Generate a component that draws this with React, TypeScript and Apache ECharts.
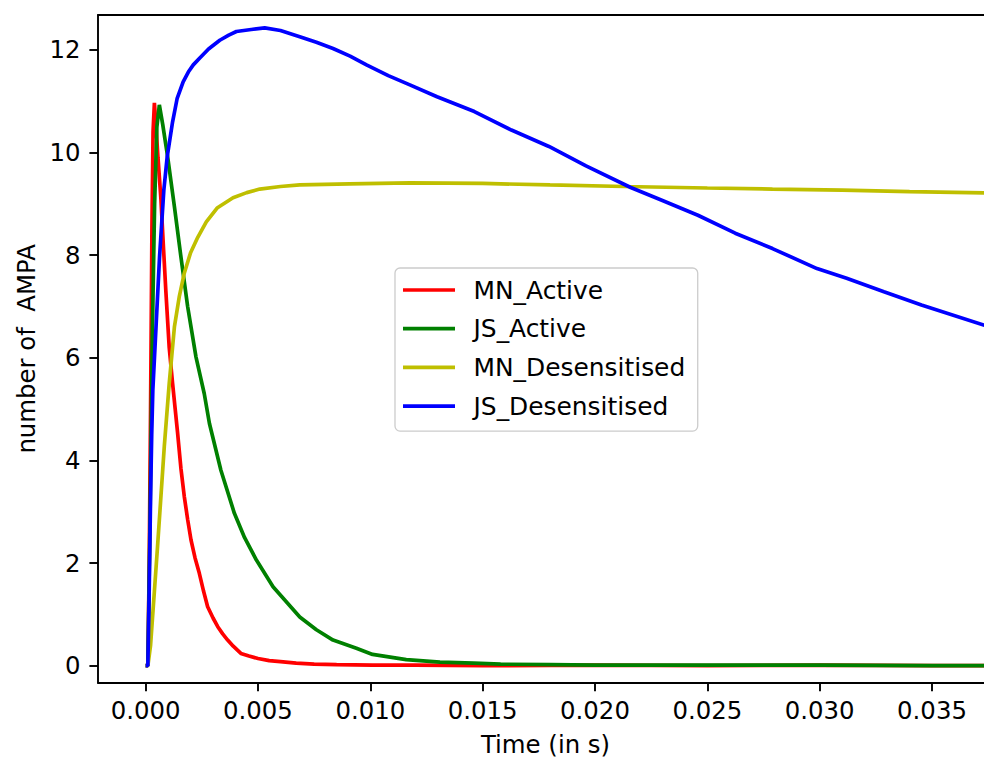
import React, { useEffect, useRef } from "react";
import * as echarts from "echarts";

// ---- data (time in s, number of AMPA) ----
const mnActiveT = [0, 0.0001, 0.00016, 0.00022, 0.00028, 0.00033, 0.00039, 0.00045, 0.00055, 0.00068, 0.0008, 0.0009, 0.00105, 0.0012, 0.00142, 0.00157, 0.00172, 0.00187, 0.00202, 0.0022, 0.00239, 0.00258, 0.00276, 0.003, 0.00321, 0.00343, 0.00365, 0.0039, 0.00424, 0.0046, 0.005, 0.0055, 0.006, 0.0067, 0.0075, 0.0085, 0.0101, 0.012, 0.015, 0.02, 0.025, 0.03, 0.035, 0.0378];
const mnActiveV = [0, 0, 2.0, 5.0, 8.5, 10.4, 10.97, 10.6, 9.9, 9.1, 8.1, 7.3, 6.2, 5.5, 4.55, 3.85, 3.3, 2.85, 2.45, 2.1, 1.8, 1.45, 1.15, 0.93, 0.76, 0.62, 0.5, 0.38, 0.24, 0.19, 0.14, 0.1, 0.08, 0.05, 0.03, 0.02, 0.01, 0.01, 0.0, 0.01, 0.0, 0.01, 0.0, 0.0];

const jsActiveT = [0, 0.0001, 0.0002, 0.0003, 0.0004, 0.0005, 0.00061, 0.00076, 0.00098, 0.00128, 0.00157, 0.00187, 0.00224, 0.00261, 0.00284, 0.00335, 0.00395, 0.0044, 0.00493, 0.00567, 0.00686, 0.0076, 0.00834, 0.00938, 0.0101, 0.0116, 0.0131, 0.0146, 0.0158, 0.018, 0.02, 0.025, 0.03, 0.035, 0.0378];
const jsActiveV = [0, 0, 3.0, 6.5, 9.0, 10.5, 10.93, 10.55, 9.92, 8.95, 7.97, 7.0, 6.02, 5.3, 4.72, 3.81, 2.97, 2.5, 2.06, 1.54, 0.95, 0.7, 0.5, 0.34, 0.22, 0.12, 0.07, 0.05, 0.03, 0.02, 0.01, 0.01, 0.01, 0.0, 0.0];

const mnDesT = [0, 0.0001, 0.00022, 0.00053, 0.00083, 0.00105, 0.00128, 0.0015, 0.00172, 0.002, 0.00232, 0.0027, 0.00318, 0.00389, 0.0045, 0.00508, 0.006, 0.00686, 0.00908, 0.01176, 0.015, 0.018, 0.0213, 0.025, 0.0279, 0.031, 0.034, 0.0378];
const mnDesV = [0, 0, 0.4, 2.32, 4.27, 5.5, 6.6, 7.2, 7.65, 8.05, 8.35, 8.65, 8.92, 9.12, 9.22, 9.29, 9.34, 9.37, 9.39, 9.41, 9.4, 9.37, 9.34, 9.31, 9.29, 9.27, 9.24, 9.21];

const jsDesT = [0, 0.0001, 0.00016, 0.00022, 0.00027, 0.00032, 0.00047, 0.00062, 0.00081, 0.00096, 0.0012, 0.0014, 0.00167, 0.0019, 0.00212, 0.0024, 0.0028, 0.0033, 0.0037, 0.00404, 0.0047, 0.0053, 0.006, 0.00686, 0.0076, 0.00834, 0.0091, 0.00983, 0.0108, 0.01176, 0.01297, 0.01463, 0.01628, 0.01795, 0.0196, 0.02159, 0.02292, 0.02458, 0.02624, 0.0279, 0.02988, 0.0312, 0.03286, 0.03453, 0.0373, 0.0378];
const jsDesV = [0, 0, 1.5, 3.3, 4.5, 5.37, 6.67, 7.97, 9.27, 9.92, 10.6, 11.05, 11.38, 11.57, 11.71, 11.84, 12.02, 12.19, 12.29, 12.36, 12.4, 12.43, 12.38, 12.26, 12.15, 12.03, 11.88, 11.71, 11.5, 11.32, 11.09, 10.8, 10.44, 10.12, 9.74, 9.32, 9.08, 8.78, 8.43, 8.13, 7.74, 7.55, 7.29, 7.03, 6.64, 6.58];

const seriesNames = ["MN_Active", "JS_Active", "MN_Desensitised", "JS_Desensitised"];
const seriesColors = ["#ff0000", "#008000", "#bfbf00", "#0000ff"];

const xTicks = [0, 0.005, 0.01, 0.015, 0.02, 0.025, 0.03, 0.035];
const yTicks = [0, 2, 4, 6, 8, 10, 12];

const zip = (t: number[], v: number[]) => t.map((x, i) => [x, v[i]]);

export default function App() {
  const ref = useRef<HTMLDivElement>(null);
  useEffect(() => {
    if (!ref.current) return;
    const chart = echarts.init(ref.current, null, { renderer: "svg" });
    const font = "DejaVu Sans";
    const fs = 24.4;
    const xMin = -0.00212;
    const xMax = 0.037314;
    const datasets = [
      zip(mnActiveT, mnActiveV),
      zip(jsActiveT, jsActiveV),
      zip(mnDesT, mnDesV),
      zip(jsDesT, jsDesV),
    ];
    chart.setOption({
      animation: false,
      textStyle: { fontFamily: font },
      grid: {
        left: 98,
        top: 15,
        width: 886,
        height: 667.7,
        show: false,
        containLabel: false,
        outerBoundsMode: "none",
      },
      legend: {
        data: seriesNames,
        orient: "vertical",
        left: 395,
        top: 268,
        icon: "rect",
        itemWidth: 52,
        itemHeight: 3.7,
        itemGap: 10.7,
        padding: [8, 12.5, 11, 8],
        borderColor: "#cccccc",
        borderWidth: 1.3,
        borderRadius: 5,
        backgroundColor: "rgba(255,255,255,0.8)",
        textStyle: {
          fontFamily: font,
          fontSize: 24.9,
          color: "#000",
          lineHeight: 28,
          padding: [0, 0, 0, 13.5],
        },
      },
      xAxis: [
        {
          type: "value",
          min: xMin,
          max: xMax,
          name: "Time (in s)",
          nameLocation: "middle",
          nameGap: 49.5,
          nameTextStyle: { fontFamily: font, fontSize: fs, color: "#000", lineHeight: 24, padding: [0, 0, 0, 9] },
          axisLine: { show: true, onZero: false, lineStyle: { color: "#000", width: 1.9 } },
          axisTick: { show: true, customValues: xTicks, length: 8.6, lineStyle: { color: "#000", width: 1.9 } },
          axisLabel: {
            customValues: xTicks,
            formatter: (v: number) => v.toFixed(3),
            margin: 16,
            fontFamily: font,
            fontSize: fs,
            color: "#000",
          },
          splitLine: { show: false },
        },
        {
          type: "value",
          position: "top",
          min: xMin,
          max: xMax,
          axisLine: { show: true, onZero: false, lineStyle: { color: "#000", width: 1.9 } },
          axisTick: { show: false },
          axisLabel: { show: false },
          splitLine: { show: false },
        },
      ],
      yAxis: {
        type: "value",
        min: -0.331,
        max: 12.682,
        name: "number of  AMPA",
        nameLocation: "middle",
        nameGap: 58,
        nameTextStyle: { fontFamily: font, fontSize: fs, color: "#000" },
        axisLine: { show: true, onZero: false, lineStyle: { color: "#000", width: 1.9 } },
        axisTick: { show: true, customValues: yTicks, length: 8.6, lineStyle: { color: "#000", width: 1.9 } },
        axisLabel: {
          customValues: yTicks,
          formatter: (v: number) => String(v),
          margin: 17.5,
          fontFamily: font,
          fontSize: fs,
          color: "#000",
        },
        splitLine: { show: false },
      },
      series: seriesNames.map((name, i) => ({
        name,
        type: "line",
        xAxisIndex: 0,
        data: datasets[i],
        showSymbol: false,
        symbol: "none",
        color: seriesColors[i],
        lineStyle: { color: seriesColors[i], width: 3.7 },
        clip: true,
      })),
    });
    return () => chart.dispose();
  }, []);
  return (
    <div style={{ position: "fixed", left: 0, top: 0, width: 984, height: 758, overflow: "hidden", background: "#fff" }}>
      <div ref={ref} style={{ width: 984, height: 758 }} />
    </div>
  );
}
